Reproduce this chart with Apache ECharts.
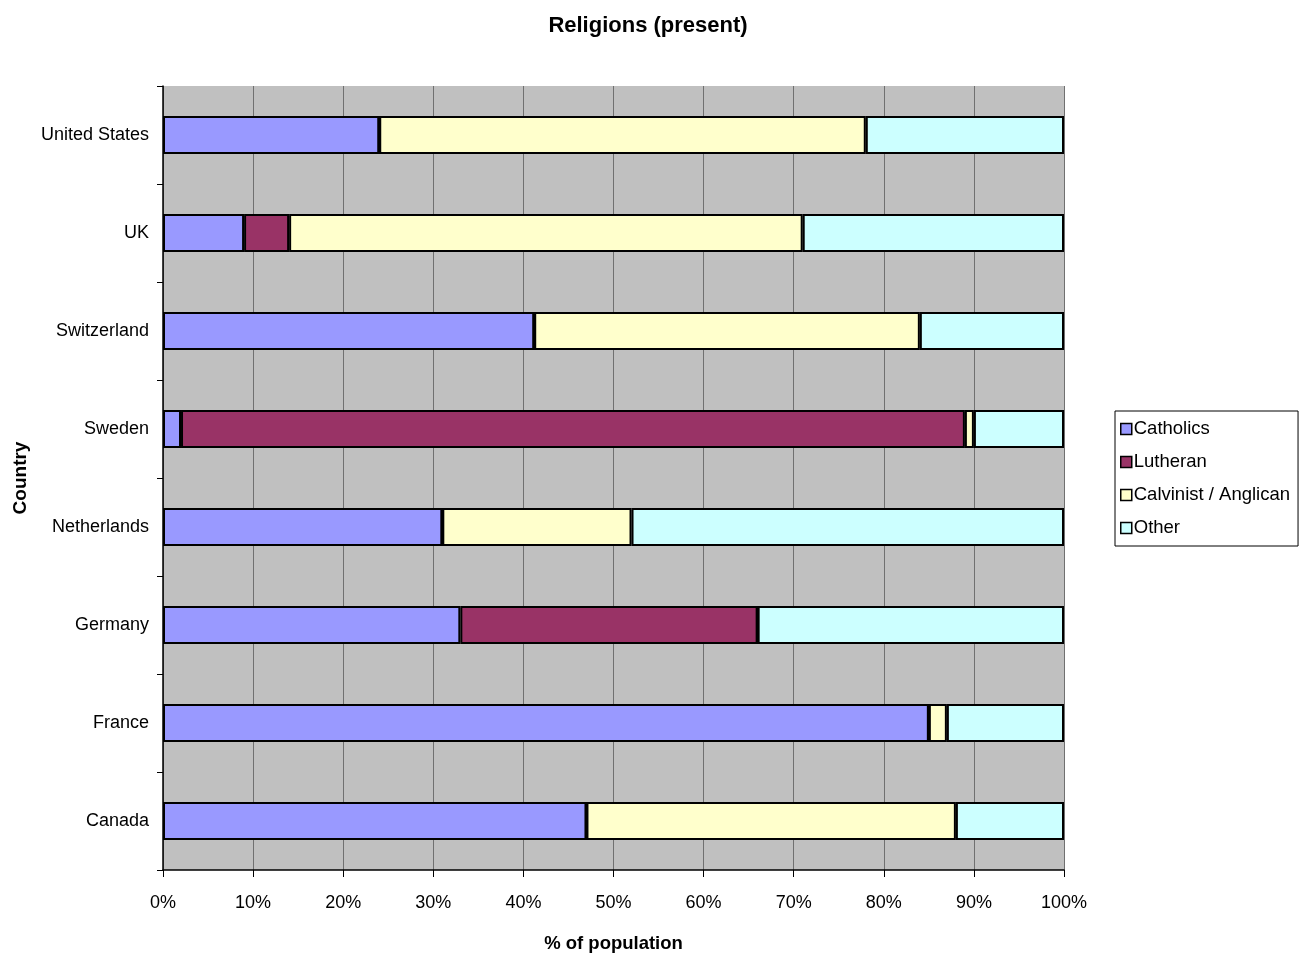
<!DOCTYPE html>
<html><head><meta charset="utf-8">
<script src="https://cdn.jsdelivr.net/npm/echarts@6/dist/echarts.min.js"></script>
<style>html,body{margin:0;padding:0;background:#fff}#c{width:1304px;height:958px}</style>
</head><body><div id="c"></div>
<script>
const countries = ['Canada','France','Germany','Netherlands','Sweden','Switzerland','UK','United States'];
const catholics = [47, 85, 33, 31, 2, 41.2, 9, 24];
const lutheran  = [0, 0, 33, 0, 87, 0, 5, 0];
const calvinist = [41, 2, 0, 21, 1, 42.8, 57, 54];
const other     = [12, 13, 34, 48, 10, 16, 29, 22];
const xTicks = [0,10,20,30,40,50,60,70,80,90,100];
const FONT = "'Liberation Sans',Arial,sans-serif";

const chart = echarts.init(document.getElementById('c'));
function ser(name, data, color){
  return {name, type:'bar', stack:'total', data, barCategoryGap:'61%',
    itemStyle:{color, borderColor:'#000', borderWidth:2}, emphasis:{disabled:true}};
}
chart.setOption({
  animation:false,
  backgroundColor:'#fff',
  title:{text:'Religions (present)', left:643, top:10, textAlign:'center',
    textStyle:{fontFamily:FONT, fontSize:22, fontWeight:'bold', color:'#000'}},
  legend:{orient:'vertical', left:1115, top:411,
    padding:[8,8,8,5], itemGap:13, itemWidth:11, itemHeight:11, icon:'rect',
    borderColor:'#000', borderWidth:1,
    itemStyle:{borderColor:'#000', borderWidth:1.5},
    textStyle:{fontFamily:FONT, fontSize:18.5, lineHeight:20, color:'#000', padding:[0,0,0,-3]},
    data:['Catholics','Lutheran','Calvinist / Anglican','Other']},
  grid:{left:163, right:240, top:86, bottom:88, outerBoundsMode:'none', containLabel:false,
    show:true, backgroundColor:'#C0C0C0', borderWidth:0},
  xAxis:{type:'value', min:0, max:100, interval:10,
    name:'% of population', nameLocation:'middle', nameGap:64,
    nameTextStyle:{fontFamily:FONT, fontSize:18.5, fontWeight:'bold', color:'#000'},
    axisLine:{show:true, lineStyle:{color:'#000', width:1.5}},
    axisTick:{show:true, length:7, lineStyle:{color:'#000'}},
    axisLabel:{formatter:v=>v+'%', fontFamily:FONT, fontSize:18, color:'#000', margin:24},
    splitLine:{show:true, lineStyle:{color:'#707070', width:1}}},
  yAxis:{type:'category', data:countries,
    name:'Country', nameLocation:'middle', nameGap:126, nameRotate:90,
    nameTextStyle:{fontFamily:FONT, fontSize:19, fontWeight:'bold', color:'#000', letterSpacing:4.5},
    axisLine:{show:true, lineStyle:{color:'#000', width:1.5}},
    axisTick:{show:true, length:6, lineStyle:{color:'#000'}},
    axisLabel:{fontFamily:FONT, fontSize:18, color:'#000', margin:14},
    splitLine:{show:false}},
  series:[
    ser('Catholics', catholics, '#9999FF'),
    ser('Lutheran', lutheran, '#993366'),
    ser('Calvinist / Anglican', calvinist, '#FFFFCC'),
    ser('Other', other, '#CCFFFF')
  ]
});
</script></body></html>
